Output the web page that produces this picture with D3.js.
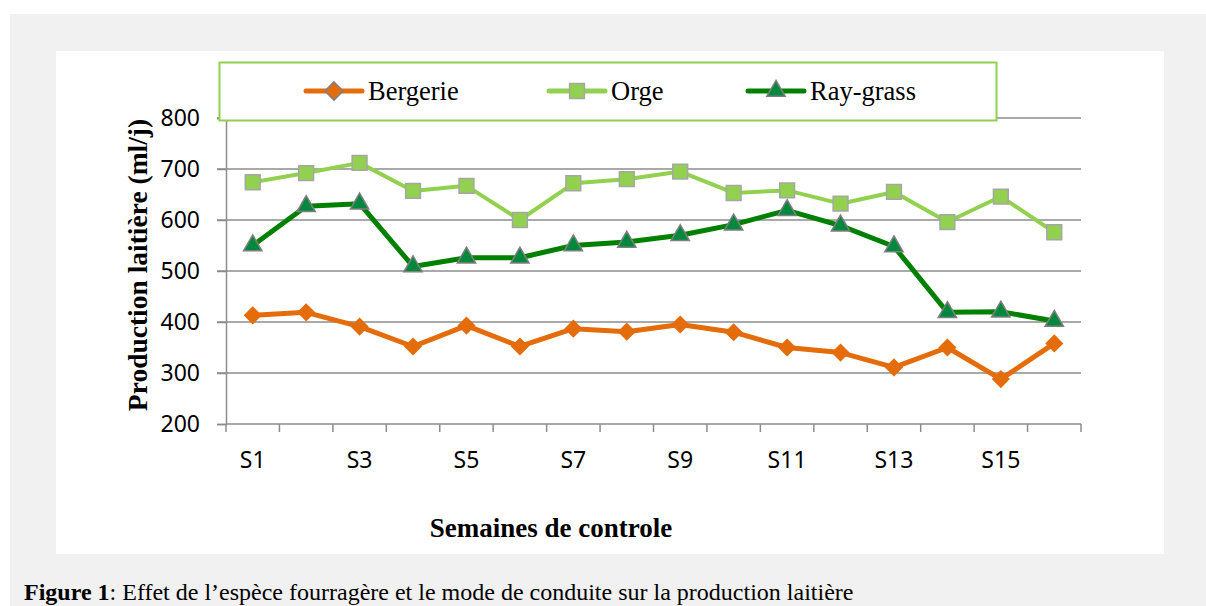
<!DOCTYPE html>
<html>
<head>
<meta charset="utf-8">
<script src="https://cdn.jsdelivr.net/npm/d3@7"></script>
<style>
  html, body { margin: 0; padding: 0; background: #ffffff; }
  svg { display: block; }
</style>
</head>
<body>
<div id="chart"></div>
<script>
// Production laitière par semaine de contrôle

const weeks = ['S1', 'S2', 'S3', 'S4', 'S5', 'S6', 'S7', 'S8',
               'S9', 'S10', 'S11', 'S12', 'S13', 'S14', 'S15', 'S16'];
const bergerie = [413, 419, 391, 352, 393, 352, 387, 381, 395, 380, 350, 340, 311, 350, 288, 358];
const orge = [674, 692, 712, 657, 667, 600, 672, 680, 695, 653, 658, 632, 655, 596, 646, 576];
const rayGrass = [550, 627, 632, 509, 526, 526, 550, 557, 570, 591, 619, 589, 548, 419, 420, 402];
const yTicks = [200, 300, 400, 500, 600, 700, 800];
const seriesNames = ['Bergerie', 'Orge', 'Ray-grass'];

const W = 1206, H = 606;
const plot = { left: 226, right: 1081, top: 118, bottom: 424 };
const serif = '"Liberation Serif", "Times New Roman", serif';
const sans = '"Noto Sans", sans-serif';

const svg = d3.select('#chart')
    .append('svg')
    .attr('width', W)
    .attr('height', H);

// page panel + white chart area
svg.append('rect').attr('x', 10).attr('y', 14).attr('width', W - 10).attr('height', H - 14).attr('fill', '#f1f1f1');
svg.append('rect').attr('x', 56).attr('y', 51).attr('width', 1108).attr('height', 503).attr('fill', '#ffffff');

const x = d3.scaleBand()
    .domain(weeks)
    .range([plot.left, plot.right]);

const y = d3.scaleLinear()
    .domain([200, 800])
    .range([plot.bottom, plot.top]);

const gridColor = '#8c8c8c';

// gridlines (extend left of the axis like tick marks)
svg.append('g')
    .selectAll('line')
    .data(yTicks.filter(d => d > 200))
    .join('line')
    .attr('x1', plot.left - 9)
    .attr('x2', plot.right)
    .attr('y1', d => y(d))
    .attr('y2', d => y(d))
    .attr('stroke', gridColor)
    .attr('stroke-width', 1.5);

// y axis
const yAxis = svg.append('g')
    .attr('transform', `translate(${plot.left},0)`)
    .call(d3.axisLeft(y).tickValues(yTicks).tickSize(9).tickFormat(d3.format('d')));
yAxis.select('.domain').attr('stroke', gridColor).attr('stroke-width', 1.5);
yAxis.selectAll('.tick line').attr('stroke', gridColor).attr('stroke-width', 1.5);
yAxis.selectAll('.tick text')
    .attr('x', -26)
    .attr('font-family', sans)
    .attr('font-size', '23px')
    .attr('fill', '#000');

// x axis: ticks at category boundaries
svg.append('line')
    .attr('x1', plot.left).attr('x2', plot.right)
    .attr('y1', plot.bottom).attr('y2', plot.bottom)
    .attr('stroke', gridColor).attr('stroke-width', 1.5);

const boundaries = weeks.map(w => x(w)).concat([plot.right]);
svg.append('g')
    .selectAll('line')
    .data(boundaries)
    .join('line')
    .attr('x1', d => d).attr('x2', d => d)
    .attr('y1', plot.bottom).attr('y2', plot.bottom + 8)
    .attr('stroke', gridColor).attr('stroke-width', 1.5);

svg.append('g')
    .selectAll('text')
    .data(weeks.filter((w, i) => i % 2 === 0))
    .join('text')
    .attr('x', d => x(d) + x.bandwidth() / 2)
    .attr('y', 468)
    .attr('text-anchor', 'middle')
    .attr('font-family', sans)
    .attr('font-size', '23px')
    .attr('fill', '#000')
    .text(d => d);

// axis titles
svg.append('text')
    .attr('transform', `translate(147,${(plot.top + plot.bottom) / 2 - 6}) rotate(-90)`)
    .attr('text-anchor', 'middle')
    .attr('font-family', serif)
    .attr('font-weight', 'bold')
    .attr('font-size', '27.5px')
    .text('Production laitière (ml/j)');

svg.append('text')
    .attr('x', 551)
    .attr('y', 537)
    .attr('text-anchor', 'middle')
    .attr('font-family', serif)
    .attr('font-weight', 'bold')
    .attr('font-size', '27px')
    .text('Semaines de controle');

// series
const series = [
    { name: seriesNames[0], values: bergerie, color: '#e46c0a', fill: '#e46c0a', stroke: 'none', width: 5, shape: 'diamond' },
    { name: seriesNames[1], values: orge, color: '#92d050', fill: '#92d050', stroke: '#a6a6a6', width: 4, shape: 'square' },
    { name: seriesNames[2], values: rayGrass, color: '#008000', fill: '#00883e', stroke: '#7f7f7f', width: 5, shape: 'triangle' }
];

const symbolFor = {
    diamond: d3.symbol().type(d3.symbolDiamond2).size(210),
    square: d3.symbol().type(d3.symbolSquare2).size(280),
    triangle: d3.symbol().type(d3.symbolTriangle2).size(240)
};

const line = d3.line()
    .x((d, i) => x(weeks[i]) + x.bandwidth() / 2)
    .y(d => y(d));

series.forEach(s => {
    svg.append('path')
        .datum(s.values)
        .attr('fill', 'none')
        .attr('stroke', s.color)
        .attr('stroke-width', s.width)
        .attr('stroke-linejoin', 'round')
        .attr('d', line);
});

series.forEach(s => {
    svg.append('g')
        .selectAll('path')
        .data(s.values)
        .join('path')
        .attr('transform', (d, i) => `translate(${x(weeks[i]) + x.bandwidth() / 2},${y(d)})`)
        .attr('d', symbolFor[s.shape])
        .attr('fill', s.fill)
        .attr('stroke', s.stroke)
        .attr('stroke-width', 1.5);
});

// legend
svg.append('rect')
    .attr('x', 219.5).attr('y', 62.5)
    .attr('width', 777).attr('height', 58)
    .attr('fill', '#ffffff')
    .attr('stroke', '#92d050')
    .attr('stroke-width', 2);

const legendX = [306, 549, 748];
series.forEach((s, i) => {
    const g = svg.append('g').attr('transform', `translate(${legendX[i]},91)`);
    g.append('line')
        .attr('x1', 0).attr('x2', 56)
        .attr('stroke', s.color)
        .attr('stroke-width', 5)
        .attr('stroke-linecap', 'round');
    g.append('path')
        .attr('transform', 'translate(28,0)')
        .attr('d', symbolFor[s.shape])
        .attr('fill', s.fill)
        .attr('stroke', s.shape === 'diamond' ? '#7f7f7f' : s.stroke)
        .attr('stroke-width', 1.5);
    g.append('text')
        .attr('x', 62)
        .attr('y', 9)
        .attr('font-family', serif)
        .attr('font-size', '26.5px')
        .text(s.name);
});

// caption (cut at the bottom edge in the original, kept just inside here)
const caption = svg.append('text')
    .attr('x', 24)
    .attr('y', 600)
    .attr('font-family', serif)
    .attr('font-size', '24px');
caption.append('tspan').attr('font-weight', 'bold').text('Figure 1');
caption.append('tspan').text(': Effet de l’espèce fourragère et le mode de conduite sur la production laitière');
</script>
</body>
</html>
